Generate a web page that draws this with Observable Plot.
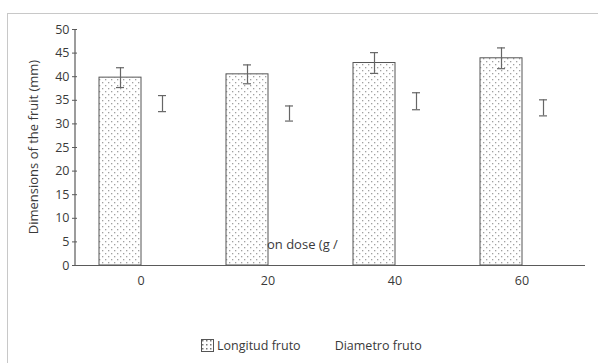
<!DOCTYPE html>
<html>
<head>
<meta charset="utf-8">
<script src="https://cdn.jsdelivr.net/npm/d3@7"></script>
<script src="https://cdn.jsdelivr.net/npm/@observablehq/plot@0.6"></script>
<style>
  html, body { margin: 0; padding: 0; background: #fff; }
  body { width: 598px; height: 363px; position: relative; overflow: hidden; font-family: "Open Sans", sans-serif; }
  #frame { position: absolute; left: 7px; top: 13px; width: 591px; height: 350px; border-top: 1px solid #c8c8c8; border-left: 1px solid #c8c8c8; }
  #chart { position: absolute; left: 0; top: 0; }
  #xtitle { position: absolute; left: 267px; top: 236px; font-size: 13px; color: #3a3a3a; white-space: nowrap; line-height: 16px; }
  #legend { position: absolute; left: 201px; top: 338px; font-size: 12.5px; color: #3a3a3a; display: flex; align-items: center; white-space: nowrap; line-height: 15px; }
  #legend .item { display: flex; align-items: center; }
  #legend svg { margin-right: 3px; }
</style>
</head>
<body>
<div id="frame"></div>
<div id="chart"></div>
<div id="xtitle">on dose (g /</div>
<div id="legend"></div>
<script>
const doses = ["0", "20", "40", "60"];
const series = ["Longitud fruto", "Diametro fruto"];
const longitud = [39.8, 40.5, 42.9, 43.9];
const longitudErr = [2.1, 2.0, 2.2, 2.2];
const diametro = [34.3, 32.2, 34.8, 33.4];
const diametroErr = [1.7, 1.6, 1.8, 1.7];
const yTicks = [0, 5, 10, 15, 20, 25, 30, 35, 40, 45, 50];

const rows = [];
doses.forEach((d, i) => {
  rows.push({dose: d, series: series[0], value: longitud[i], err: longitudErr[i]});
  rows.push({dose: d, series: series[1], value: diametro[i], err: diametroErr[i]});
});
const barRows = rows.filter(r => r.series === series[0]);

const axisColor = "#5a5a5a";
const errColor = "#666";
const textColor = "#3a3a3a";

const chart = Plot.plot({
  width: 598,
  height: 290,
  marginTop: 29,
  marginBottom: 25,
  marginLeft: 75,
  marginRight: 12,
  style: {fontFamily: "Open Sans, sans-serif", fontSize: "12.5px", color: textColor, background: "transparent"},
  fx: {domain: doses, padding: 0, label: null},
  x: {domain: series, paddingInner: 0, paddingOuter: 0.5, axis: null},
  y: {domain: [0, 50], label: null},
  marks: [
    Plot.axisY({ticks: yTicks, tickSize: 5, tickPadding: 3, stroke: axisColor, fill: textColor, fontSize: 12.5, label: null}),
    Plot.axisFx({anchor: "bottom", tickSize: 0, tickPadding: 11, fill: textColor, fontSize: 12.5, label: null}),
    Plot.barY(barRows, {fx: "dose", x: "series", y: "value", fill: "url(#dots)", stroke: "#555", strokeWidth: 1}),
    Plot.ruleY([0], {stroke: axisColor, strokeWidth: 1.2}),
    Plot.ruleX(rows, {fx: "dose", x: "series", y1: d => d.value - d.err, y2: d => d.value + d.err, stroke: errColor, strokeWidth: 1.2}),
    Plot.tickY(rows, {fx: "dose", x: "series", y: d => d.value - d.err, stroke: errColor, strokeWidth: 1.2, insetLeft: 17, insetRight: 17}),
    Plot.tickY(rows, {fx: "dose", x: "series", y: d => d.value + d.err, stroke: errColor, strokeWidth: 1.2, insetLeft: 17, insetRight: 17})
  ]
});

const svg = d3.select(chart);
const defs = svg.insert("defs", ":first-child");
const pat = defs.append("pattern").attr("id", "dots").attr("width", 6).attr("height", 6).attr("patternUnits", "userSpaceOnUse");
pat.append("rect").attr("width", 6).attr("height", 6).attr("fill", "#fff");
pat.append("rect").attr("x", 1).attr("y", 1).attr("width", 1.3).attr("height", 1.3).attr("fill", "#a0a0a0");
pat.append("rect").attr("x", 4).attr("y", 4).attr("width", 1.3).attr("height", 1.3).attr("fill", "#a0a0a0");

// y axis domain line, from the chart's own y scale
const ys = chart.scale("y");
const yr = ys.range;
svg.append("line")
  .attr("x1", 75).attr("x2", 75)
  .attr("y1", yr[0]).attr("y2", yr[1])
  .attr("stroke", axisColor).attr("stroke-width", 1.2);

// y axis title
svg.append("text")
  .attr("transform", `translate(35,${(yr[0] + yr[1]) / 2}) rotate(-90)`)
  .attr("text-anchor", "middle")
  .attr("dominant-baseline", "middle")
  .attr("fill", textColor)
  .style("font-size", "13px")
  .text("Dimensions of the fruit (mm)");

document.getElementById("chart").appendChild(chart);

// legend
const legend = d3.select("#legend");
series.forEach((s, i) => {
  const item = legend.append("div").attr("class", "item").style("margin-right", i === 0 ? "34px" : "0");
  if (i === 0) {
    const sw = item.append("svg").attr("width", 13).attr("height", 13);
    const sd = sw.append("defs").append("pattern").attr("id", "dots2").attr("width", 4).attr("height", 4).attr("patternUnits", "userSpaceOnUse");
    sd.append("rect").attr("width", 4).attr("height", 4).attr("fill", "#fff");
    sd.append("rect").attr("x", 1).attr("y", 1).attr("width", 1.5).attr("height", 1.5).attr("fill", "#777");
    sw.append("rect").attr("x", 0.5).attr("y", 0.5).attr("width", 12).attr("height", 12).attr("fill", "url(#dots2)").attr("stroke", "#555");
  }
  item.append("span").text(s);
});
</script>
</body>
</html>
